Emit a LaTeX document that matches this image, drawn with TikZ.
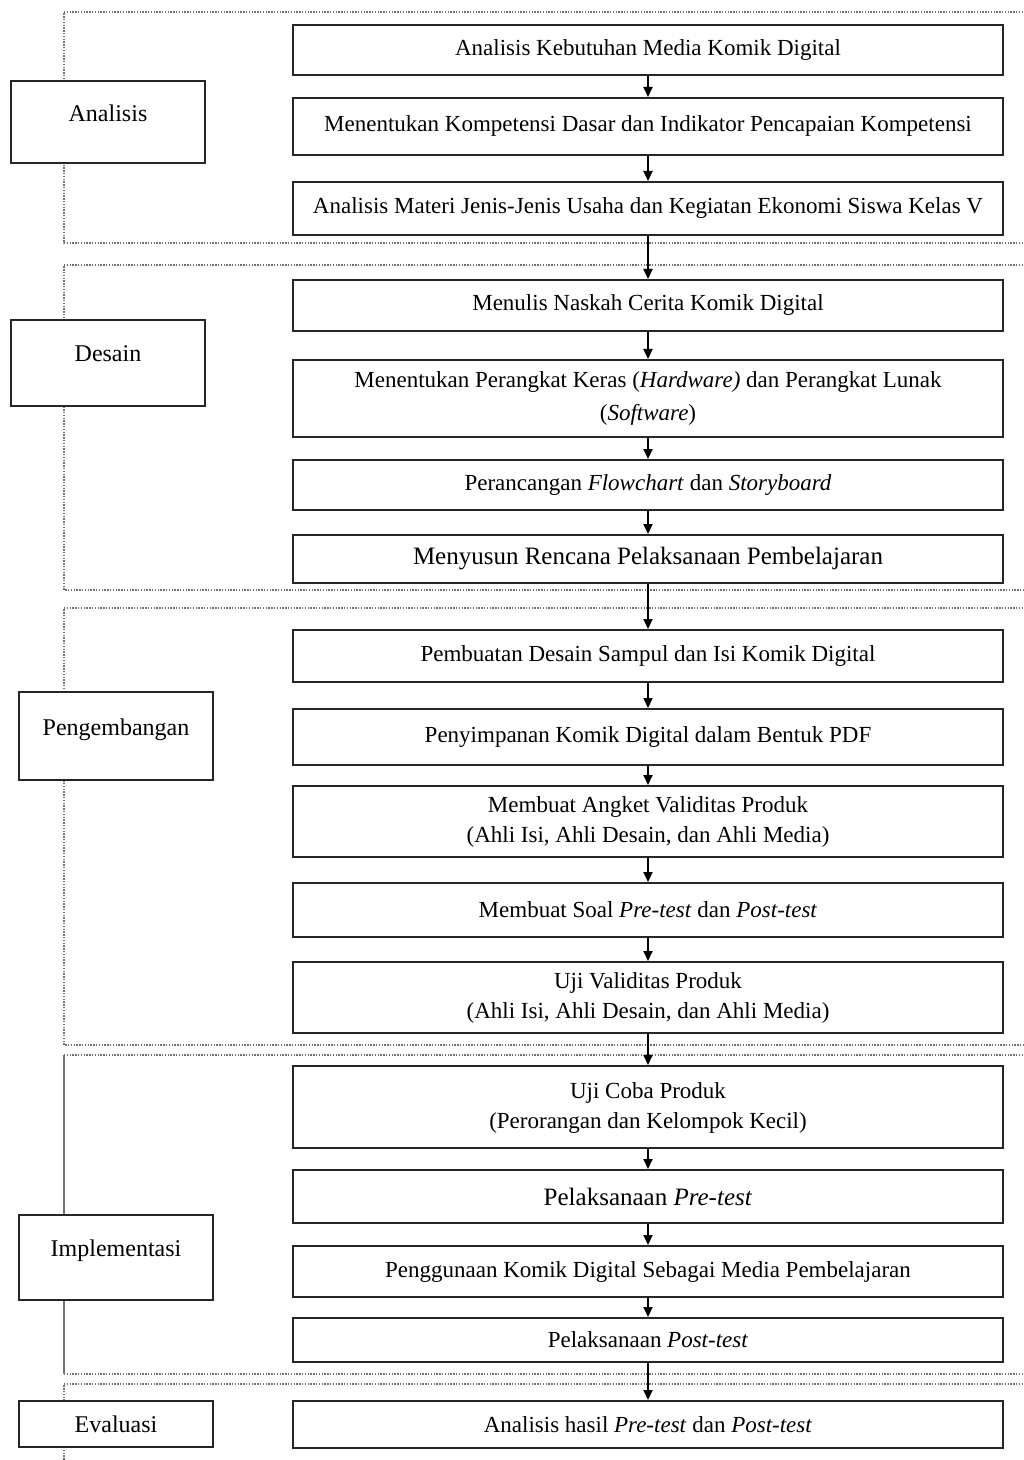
\documentclass[tikz,border=0pt]{standalone}
\usepackage{fontspec}
\setmainfont{Liberation Serif}
\usetikzlibrary{arrows.meta}
\tikzset{
  rbox/.style={draw=black!85, line width=1pt, fill=white, minimum width=355pt, align=center, inner sep=2pt, font=\fontsize{11.5}{15}\selectfont},
  lbox/.style={draw=black!85, line width=1pt, fill=white, minimum width=97pt, align=center, inner sep=2pt, font=\fontsize{12}{15}\selectfont},
  frame/.style={draw=black!55, line width=1.4pt, dash pattern=on 0.7pt off 0.7pt},
  flow/.style={draw=black, line width=0.9pt, -{Triangle[length=5pt,width=4.5pt]}},
}
\begin{document}
\begin{tikzpicture}[x=0.5pt,y=-0.5pt]
\useasboundingbox[fill=white] (0,0) rectangle (1023,1460);
% frames
\draw[frame] (1023,12) -- (64,12) -- (64,243) -- (1023,243);
\draw[frame] (1023,265) -- (64,265) -- (64,590) -- (1023,590);
\draw[frame] (1023,608) -- (64,608) -- (64,1045) -- (1023,1045);
\draw[frame] (1023,1055) -- (64,1055);
\draw[black!55, line width=0.7pt] (64,1055) -- (64,1374);
\draw[frame] (64,1374) -- (1023,1374);
\draw[frame] (1023,1384) -- (64,1384) -- (64,1460);
% left boxes
\node[lbox, minimum height=41pt] (analisis) at (108,122) {\raisebox{9pt}{Analisis}};
\node[lbox, minimum height=43pt] (desain) at (108,363) {\raisebox{9pt}{Desain}};
\node[lbox, minimum height=44pt] (pengembangan) at (116,736) {\raisebox{9pt}{Pengembangan}};
\node[lbox, minimum height=42.5pt] (implementasi) at (116,1257.5) {\raisebox{9pt}{Implementasi}};
\node[lbox, minimum height=23pt] (evaluasi) at (116,1424) {Evaluasi};
% right boxes
\node[rbox, minimum height=25pt] (b1) at (648,50) {Analisis Kebutuhan Media Komik Digital};
\node[rbox, minimum height=28.5pt] (b2) at (648,126.5) {\raisebox{3pt}{Menentukan Kompetensi Dasar dan Indikator Pencapaian Kompetensi}};
\node[rbox, minimum height=26.5pt] (b3) at (648,208.5) {Analisis Materi Jenis-Jenis Usaha dan Kegiatan Ekonomi Siswa Kelas V};
\node[rbox, minimum height=25.5pt] (b4) at (648,305.5) {Menulis Naskah Cerita Komik Digital};
\node[rbox, minimum height=38.5pt, font=\fontsize{11.5}{16.5}\selectfont] (b5) at (648,398.5) {Menentukan Perangkat Keras (\textit{Hardware)} dan Perangkat Lunak\\(\textit{Software})};
\node[rbox, minimum height=25pt] (b6) at (648,485) {Perancangan \textit{Flowchart} dan \textit{Storyboard}};
\node[rbox, minimum height=24pt, font=\fontsize{12.5}{15}\selectfont] (b7) at (648,559) {Menyusun Rencana Pelaksanaan Pembelajaran};
\node[rbox, minimum height=26pt] (b8) at (648,656) {Pembuatan Desain Sampul dan Isi Komik Digital};
\node[rbox, minimum height=28pt] (b9) at (648,737) {Penyimpanan Komik Digital dalam Bentuk PDF};
\node[rbox, minimum height=35.5pt] (b10) at (648,821.5) {Membuat Angket Validitas Produk\\(Ahli Isi, Ahli Desain, dan Ahli Media)};
\node[rbox, minimum height=27pt] (b11) at (648,910) {Membuat Soal \textit{Pre-test} dan \textit{Post-test}};
\node[rbox, minimum height=35.5pt] (b12) at (648,997.5) {Uji Validitas Produk\\(Ahli Isi, Ahli Desain, dan Ahli Media)};
\node[rbox, minimum height=41pt] (b13) at (648,1107) {\raisebox{6pt}{\begin{tabular}{@{}c@{}}Uji Coba Produk\\(Perorangan dan Kelompok Kecil)\end{tabular}}};
\node[rbox, minimum height=26.5pt, font=\fontsize{12.5}{15}\selectfont] (b14) at (648,1196.5) {Pelaksanaan \textit{Pre-test}};
\node[rbox, minimum height=25.5pt] (b15) at (648,1271.5) {Penggunaan Komik Digital Sebagai Media Pembelajaran};
\node[rbox, minimum height=22pt] (b16) at (648,1340) {Pelaksanaan \textit{Post-test}};
\node[rbox, minimum height=23.5pt] (b17) at (648,1424.5) {Analisis hasil \textit{Pre-test} dan \textit{Post-test}};
% arrows
\foreach \a/\b in {b1/b2,b2/b3,b3/b4,b4/b5,b5/b6,b6/b7,b7/b8,b8/b9,b9/b10,b10/b11,b11/b12,b12/b13,b13/b14,b14/b15,b15/b16,b16/b17}
  \draw[flow] (\a.south) -- (\b.north);
\end{tikzpicture}
\end{document}
